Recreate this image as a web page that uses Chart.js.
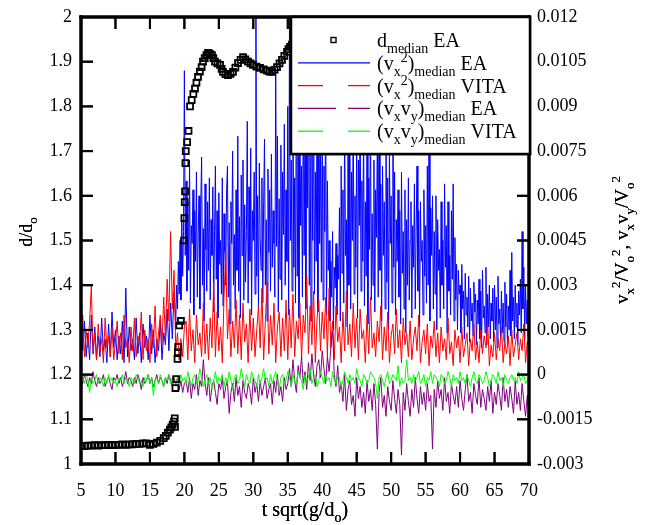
<!DOCTYPE html>
<html>
<head>
<meta charset="utf-8">
<script src="https://cdn.jsdelivr.net/npm/chart.js@4.4.1/dist/chart.umd.min.js"></script>
</head>
<body style="margin:0">
<canvas id="chart" width="645" height="525"></canvas>
<script>
// velocity series are sampled on a fixed clock starting at t = 5
const SAMPLE_START = 5;
const SAMPLE_STEP = 0.25;
// the EA (vx^2) record after the transition is denser: t = 18.75, 18.875, ... 70
const LATE_START = 18.75;
const LATE_STEP = 0.125;

const X_TICKS = [5, 10, 15, 20, 25, 30, 35, 40, 45, 50, 55, 60, 65, 70];
const D_TICKS = [1, 1.1, 1.2, 1.3, 1.4, 1.5, 1.6, 1.7, 1.8, 1.9, 2];
const D_TICK_LABELS = ['1', '1.1', '1.2', '1.3', '1.4', '1.5', '1.6', '1.7', '1.8', '1.9', '2'];
const V_TICKS = [-0.003, -0.0015, 0, 0.0015, 0.003, 0.0045, 0.006, 0.0075, 0.009, 0.0105, 0.012];
const V_TICK_LABELS = ['-0.003', '-0.0015', '0', '0.0015', '0.003', '0.0045', '0.006', '0.0075', '0.009', '0.0105', '0.012'];

// d_median EA (left axis)
const D_T = [5, 5.5, 6, 6.5, 7, 7.5, 8, 8.5, 9, 9.5, 10, 10.5, 11, 11.5, 12, 12.5, 13, 13.5, 14, 14.5,
  15, 15.5, 16, 16.5, 17, 17.3, 17.6, 17.9, 18.1, 18.3, 18.5, 18.6,
  18.64, 18.7, 18.8, 19.0, 19.05, 19.1, 19.25, 19.5, 19.95, 20.0, 20.05, 20.1, 20.15, 20.2, 20.4, 20.6,
  20.82, 21.06, 21.3, 21.54, 21.75, 21.98, 22.25, 22.5, 22.7, 22.95, 23.2, 23.43, 23.7, 24.0, 24.2, 24.44,
  24.8, 25.17, 25.4, 25.6, 25.95, 26.33, 26.7, 27.05, 27.4, 27.78, 28.15, 28.51, 28.85, 29.23, 29.6, 29.96,
  30.45, 30.97, 31.5, 31.99, 32.35, 32.71, 33.1, 33.44, 33.8, 34.16, 34.5, 34.89, 35.1, 35.33, 35.6,
  37, 40, 45, 50, 55, 60, 65, 70];
const D_VAL = [1.040, 1.040, 1.041, 1.041, 1.042, 1.041, 1.042, 1.042, 1.043, 1.042, 1.043, 1.043, 1.044, 1.043, 1.044, 1.044, 1.045, 1.045, 1.046, 1.046,
  1.043, 1.045, 1.048, 1.052, 1.058, 1.063, 1.070, 1.077, 1.082, 1.088, 1.095, 1.102,
  1.083, 1.17, 1.19, 1.235, 1.25, 1.262, 1.31, 1.32, 1.50, 1.55, 1.586, 1.61, 1.673, 1.70, 1.72, 1.745,
  1.80, 1.814, 1.828, 1.84, 1.853, 1.866, 1.878, 1.888, 1.90, 1.908, 1.915, 1.92, 1.918, 1.915, 1.908, 1.90,
  1.896, 1.893, 1.884, 1.877, 1.872, 1.87, 1.873, 1.877, 1.887, 1.897, 1.904, 1.91, 1.905, 1.90, 1.896, 1.893,
  1.889, 1.886, 1.883, 1.88, 1.878, 1.877, 1.882, 1.888, 1.896, 1.904, 1.913, 1.922, 1.928, 1.933, 1.938,
  1.945, 1.94, 1.95, 1.945, 1.95, 1.955, 1.95, 1.953];

// (vx^2)median EA, t = 5 ... 18.5 (step 0.25)
const VX2_EA_EARLY = [
  0.003, 0.0008, 0.0018, 0.0006, 0.0014, 0.0005, 0.002, 0.0007, 0.0016, 0.0005,
  0.0013, 0.0006, 0.0019, 0.0008, 0.0012, 0.0004, 0.0017, 0.0006, 0.0021, 0.0009,
  0.0015, 0.0005, 0.0013, 0.0007, 0.0018, 0.0004, 0.0029, 0.0006, 0.0016, 0.0008,
  0.0012, 0.0005, 0.0019, 0.0007, 0.0014, 0.0004, 0.0017, 0.0009, 0.0013, 0.0005,
  0.002, 0.0007, 0.0015, 0.0004, 0.0012, 0.0008, 0.0018, 0.0005, 0.0014, 0.001,
  0.0022, 0.0008, 0.0024, 0.0012, 0.0028
];

// (vx^2)median EA, t = 18.75 ... 70 (step 0.125)
const VX2_EA_LATE = [
  0.0018, 0.003, 0.0022, 0.0038, 0.0027, 0.0045, 0.0025, 0.0052, 0.0033, 0.0048,
  0.0102, 0.004, 0.0065, 0.0028, 0.0058, 0.0035, 0.0072, 0.0024, 0.005, 0.0044,
  0.0062, 0.002, 0.0055, 0.0038, 0.0068, 0.0026, 0.0047, 0.006, 0.0022, 0.0057,
  0.0073, 0.003, 0.0049, 0.0018, 0.0064, 0.0042, 0.0028, 0.0058, 0.0035, 0.0066,
  0.0025, 0.0052, 0.004, 0.0063, 0.0021, 0.0048, 0.007, 0.0032, 0.0055, 0.0019,
  0.0061, 0.0037, 0.0045, 0.0027, 0.0066, 0.0023, 0.0054, 0.0041, 0.003, 0.0062,
  0.007, 0.0026, 0.0051, 0.0017, 0.0058, 0.0044, 0.0075, 0.003, 0.0047, 0.0022,
  0.0062, 0.0035, 0.008, 0.0028, 0.0053, 0.0019, 0.0067, 0.004, 0.0072, 0.0025,
  0.0057, 0.0031, 0.0048, 0.0085, 0.0024, 0.0063, 0.0038, 0.0076, 0.002, 0.0055,
  0.0045, 0.0068, 0.0027, 0.013, 0.0033, 0.006, 0.0022, 0.0071, 0.0046, 0.0035,
  0.0066, 0.0024, 0.0058, 0.0079, 0.003, 0.0052, 0.0018, 0.0069, 0.0041, 0.0062,
  0.0028, 0.0074, 0.0036, 0.0055, 0.0044, 0.0026, 0.0102, 0.0043, 0.008, 0.0021,
  0.0059, 0.0032, 0.0077, 0.0025, 0.0068, 0.0047, 0.0084, 0.003, 0.0062, 0.0038,
  0.009, 0.002, 0.012, 0.0045, 0.0072, 0.0028, 0.0095, 0.0036, 0.0066, 0.0024,
  0.011, 0.0033, 0.0078, 0.0019, 0.0088, 0.005, 0.007, 0.0026, 0.0098, 0.004,
  0.0085, 0.0022, 0.0092, 0.0056, 0.0105, 0.003, 0.0074, 0.0018, 0.0083, 0.0045,
  0.0096, 0.0027, 0.0068, 0.0038, 0.0088, 0.0021, 0.0112, 0.0044, 0.0076, 0.0031,
  0.0082, 0.0025, 0.007, 0.0048, 0.0092, 0.002, 0.0065, 0.0035, 0.0045, 0.0018,
  0.0038, 0.0026, 0.0048, 0.0015, 0.0036, 0.0029, 0.0044, 0.002, 0.004, 0.0032,
  0.0056, 0.0018, 0.007, 0.0034, 0.0062, 0.0024, 0.0085, 0.004, 0.0052, 0.0016,
  0.0076, 0.003, 0.0095, 0.0022, 0.0068, 0.0045, 0.0088, 0.0027, 0.006, 0.0036,
  0.008, 0.0019, 0.0072, 0.005, 0.0092, 0.0028, 0.0065, 0.0038, 0.0084, 0.0023,
  0.0058, 0.0033, 0.0077, 0.0017, 0.0066, 0.0042, 0.009, 0.0025, 0.0054, 0.003,
  0.0072, 0.0021, 0.0062, 0.0046, 0.0082, 0.0026, 0.011, 0.0035, 0.0064, 0.0018,
  0.007, 0.004, 0.0058, 0.0022, 0.0086, 0.0031, 0.0066, 0.0015, 0.0075, 0.0044,
  0.006, 0.0024, 0.0095, 0.0036, 0.0068, 0.002, 0.0052, 0.0038, 0.0062, 0.0026,
  0.0055, 0.0017, 0.0068, 0.0034, 0.0048, 0.0022, 0.0062, 0.0014, 0.0052, 0.003,
  0.0066, 0.0025, 0.0045, 0.0058, 0.0019, 0.005, 0.0036, 0.0064, 0.0022, 0.0048,
  0.007, 0.0028, 0.0055, 0.0016, 0.0058, 0.0038, 0.0045, 0.002, 0.0062, 0.0033,
  0.005, 0.0024, 0.007, 0.003, 0.0085, 0.0018, 0.0056, 0.004, 0.006, 0.0022,
  0.0048, 0.0027, 0.006, 0.0015, 0.0052, 0.0035, 0.0042, 0.0019, 0.0058, 0.003,
  0.0045, 0.0022, 0.0064, 0.0036, 0.005, 0.0014, 0.0058, 0.0028, 0.004, 0.002,
  0.0055, 0.0032, 0.0064, 0.0018, 0.0046, 0.0025, 0.0037, 0.0015, 0.0035, 0.0027,
  0.003, 0.0014, 0.0037, 0.0022, 0.0028, 0.0012, 0.0034, 0.002, 0.0026, 0.0016,
  0.0033, 0.0011, 0.0029, 0.0018, 0.0024, 0.0013, 0.0031, 0.0021, 0.0027, 0.001,
  0.0025, 0.0017, 0.0032, 0.0012, 0.0028, 0.0009, 0.0035, 0.0019, 0.0023, 0.0014,
  0.0036, 0.001, 0.0027, 0.0016, 0.003, 0.0012, 0.0024, 0.0018, 0.0029, 0.0011,
  0.003, 0.0015, 0.0026, 0.0009, 0.0033, 0.0017, 0.0022, 0.0012, 0.0028, 0.0014,
  0.0024, 0.0011, 0.0031, 0.0016, 0.0027, 0.001, 0.0023, 0.0015, 0.0035, 0.0013,
  0.0041, 0.0018, 0.0026, 0.0012, 0.003, 0.0016, 0.0024, 0.001, 0.0028, 0.002,
  0.0032, 0.0014, 0.0048, 0.0022, 0.0036, 0.0012, 0.003, 0.0017, 0.0025, 0.0013,
  0.0015
];

// (vx^2)median VITA, t = 5 ... 70 (step 0.25)
const VX2_VITA = [
  0.0012, 0.002, 0.0006, 0.0015, 0.0009, 0.0018, 0.003, 0.0007, 0.0014, 0.0005,
  0.0017, 0.0008, 0.0012, 0.0004, 0.0019, 0.0009, 0.0013, 0.0006, 0.0016, 0.0005,
  0.0011, 0.0018, 0.0007, 0.0014, 0.0005, 0.002, 0.0009, 0.0012, 0.0004, 0.0016,
  0.0008, 0.0019, 0.0006, 0.0013, 0.001, 0.0021, 0.0005, 0.0015, 0.0008, 0.0012,
  0.0004, 0.0017, 0.0009, 0.0023, 0.0006, 0.0014, 0.002, 0.001, 0.0026, 0.0012,
  0.0032, 0.0018, 0.0048, 0.0022, 0.0035,
  0.0008, 0.0014, 0.0005, 0.0012, 0.0006, 0.0016,
  0.0018, 0.0005, 0.0022, 0.0008, 0.0015, 0.0004, 0.002, 0.001, 0.0014, 0.0006,
  0.0024, 0.0007, 0.0017, 0.0005, 0.0019, 0.0009, 0.0031, 0.0006, 0.0021, 0.0008,
  0.0016, 0.0004, 0.0026, 0.0041, 0.0012, 0.0022, 0.0006, 0.0018, 0.0009, 0.0025,
  0.0007, 0.002, 0.0005, 0.0024, 0.0011, 0.0017, 0.0004, 0.0022, 0.0008, 0.0019,
  0.0006, 0.0015, 0.0023, 0.0009, 0.0029, 0.0005, 0.0018, 0.0031, 0.0007, 0.002,
  0.001, 0.0024, 0.0004, 0.0016, 0.0021, 0.0006, 0.0019, 0.0008, 0.0025, 0.0005,
  0.0022, 0.0009, 0.0027, 0.0006, 0.0018, 0.0012, 0.0024, 0.0005, 0.002, 0.0014,
  0.0033, 0.0007, 0.0023, 0.001, 0.0028, 0.0004, 0.0019, 0.0025, 0.0008, 0.0021,
  0.0012, 0.0026, 0.0006, 0.0029, 0.0009, 0.0018, 0.0005, 0.0023, 0.0011, 0.0016,
  0.0004, 0.0021, 0.0008, 0.0028, 0.001, 0.0017, 0.0006, 0.0024, 0.0009, 0.0019,
  0.0005, 0.0022, 0.0012, 0.0015, 0.0004, 0.002, 0.0007, 0.0026, 0.0009, 0.0014,
  0.0006, 0.0018, 0.0011, 0.0023, 0.0005, 0.0016, 0.0008, 0.0021, 0.0004, 0.0013,
  0.0017, 0.0007, 0.0022, 0.0009, 0.0015, 0.0004, 0.0019, 0.001, 0.0014, 0.0006,
  0.0018, 0.0005, 0.0012, 0.0016, 0.0008, 0.002, 0.0004, 0.0011, 0.0015, 0.0007,
  0.0017, 0.0003, 0.0013, 0.0009, 0.0018, 0.0006, 0.0014, 0.0004, 0.0016, 0.0008,
  0.0012, 0.0005, 0.0019, 0.0007, 0.0011, 0.0003, 0.0015, 0.0009, 0.0013, 0.0004,
  0.0016, 0.0006, 0.001, 0.0014, 0.0003, 0.0012, 0.0008, 0.0017, 0.0005, 0.0011,
  0.0004, 0.0015, 0.0007, 0.0013, 0.0009, 0.0018, 0.0003, 0.001, 0.0006, 0.0014,
  0.0005, 0.0012, 0.0008, 0.0016, 0.0004, 0.0011, 0.0007, 0.0013, 0.0003, 0.0015,
  0.0006, 0.001, 0.0014, 0.0005, 0.0012, 0.0008, 0.0017, 0.0004, 0.0011, 0.0009
];

// (vxvy)median EA, t = 5 ... 70 (step 0.25)
const VXVY_EA = [
  -0.0001, -0.0003, 0, -0.0002, -0.0004, -0.0001, -0.0003, 0.0001, -0.0002, -0.0004,
  -0.0001, -0.0003, -0.0002, 0, -0.0004, -0.0002, -0.0001, -0.0003, -0.0005, -0.0001,
  -0.0002, 0, -0.0003, -0.0001, -0.0004, -0.0002, 0.0001, -0.0003, -0.0001, -0.0002,
  -0.0004, -0.0001, -0.0003, 0, -0.0002, -0.0005, -0.0001, -0.0003, -0.0002, 0,
  -0.0003, -0.0001, -0.0004, -0.0002, 0, -0.0003, -0.0001, -0.0002, -0.0004, -0.0001,
  -0.0003, 0, -0.0002, -0.0004, -0.0001,
  -0.0003, -0.0001, -0.0005, -0.0002, -0.0006, -0.0003,
  -0.0002, -0.0006, -0.0001, -0.0008, -0.0003, -0.0005, 0, -0.0007, -0.0002, -0.0004,
  0.0005, -0.0003, -0.0007, -0.0001, -0.0009, -0.0004, -0.0002, -0.0006, -0.001, -0.0003,
  -0.0005, -0.0001, -0.0008, -0.0004, -0.0002, -0.0013, -0.0006, -0.0003, -0.0009, -0.0001,
  -0.0007, -0.0004, -0.0011, -0.0002, -0.0006, -0.0008, -0.0003, -0.0005, -0.001, -0.0001,
  -0.0006, -0.0003, -0.0009, -0.0002, -0.0007, -0.0004, -0.0001, -0.0008, -0.0005, -0.0003,
  -0.001, -0.0002, -0.0006, 0, -0.0007, -0.0004, -0.0009, -0.0001, -0.0005, -0.0003,
  0.0002, -0.0004, 0.0005, -0.0002, -0.0006, 0.0003, -0.0001, 0.0006, -0.0003, 0.0001,
  -0.0005, 0.0004, -0.0002, 0.0007, 0, -0.0004, 0.0003, 0.0005, -0.0001, 0.0008,
  0.0002, -0.0003, 0.0006, 0.0001, 0.0009, 0.0015, 0, -0.0004, 0.0003, -0.0006,
  -0.0003, -0.0009, 0, -0.0012, -0.0005, -0.0002, -0.001, -0.0007, -0.0014, -0.0001,
  -0.0008, -0.0004, -0.0011, -0.0006, -0.0013, -0.0002, -0.0009, -0.0005, -0.0012, -0.0003,
  -0.001, -0.0025, -0.0006, -0.0001, -0.0011, -0.0007, -0.0014, -0.0004, -0.0009, -0.0012,
  -0.0002, -0.0008, -0.0013, -0.0005, -0.001, -0.0027, -0.0006, -0.0012, -0.0003, -0.0009,
  -0.0014, -0.0005, -0.0011, -0.0001, -0.0008, -0.0013, -0.0004, -0.001, -0.0006, -0.0012,
  -0.0003, -0.0009, -0.0007, -0.0025, -0.0005, -0.0011, -0.0002, -0.0008, -0.0005, -0.0012,
  -0.0001, -0.0009, -0.0006, -0.0013, -0.0003, -0.0007, -0.001, -0.0004, -0.0011, -0.0002,
  -0.0008, -0.0012, -0.0005, 0, -0.0009, -0.0006, -0.0013, -0.0003, -0.0007, -0.001,
  -0.0001, -0.0011, -0.0005, -0.0008, -0.0012, -0.0004, -0.0009, -0.0002, -0.0013, -0.0006,
  -0.001, -0.0003, -0.0007, -0.0012, -0.0001, -0.0009, -0.0005, -0.0011, -0.0004, -0.0008,
  -0.0013, -0.0002, -0.001, -0.0006, -0.0012, -0.0003, -0.0009, -0.0014, -0.0007, -0.0013
];

// (vxvy)median VITA, t = 5 ... 70 (step 0.25)
const VXVY_VITA = [
  -0.0002, -0.0001, -0.0003, 0, -0.0002, -0.0006, -0.0001, -0.0003, -0.0002, 0,
  -0.0003, -0.0001, -0.0002, -0.0004, -0.0001, -0.0003, 0, -0.0002, -0.0001, -0.0003,
  -0.0002, -0.0004, -0.0001, -0.0002, 0, -0.0003, -0.0001, -0.0002, -0.0004, -0.0001,
  -0.0002, -0.0003, 0, -0.0001, -0.0003, -0.0002, -0.0004, -0.0001, -0.0002, 0,
  -0.0003, -0.0001, -0.0007, -0.0002, -0.0001, -0.0003, 0, -0.0002, -0.0004, -0.0001,
  -0.0002, 0, -0.0003, -0.0001, -0.0002,
  -0.0004, -0.0001, -0.0003, 0, -0.0002, -0.0001,
  -0.0003, 0.0001, -0.0002, -0.0004, -0.0001, 0, -0.0003, -0.0002, 0.0002, -0.0001,
  -0.0004, -0.0002, 0, -0.0003, -0.0001, -0.0005, -0.0002, 0.0001, -0.0003, -0.0001,
  -0.0002, 0, -0.0004, -0.0001, -0.0003, 0.0001, -0.0002, -0.0005, -0.0001, 0,
  -0.0003, -0.0002, 0.0002, -0.0001, -0.0004, 0, -0.0002, -0.0003, 0.0001, -0.0001,
  -0.0002, -0.0004, 0, -0.0003, -0.0001, 0.0002, -0.0002, -0.0001, -0.0004, 0,
  -0.0003, -0.0001, 0.0001, -0.0002, -0.0005, -0.0001, 0, -0.0003, -0.0002, 0.0001,
  -0.0001, -0.0004, 0, -0.0002, -0.0003, 0.0001, -0.0001, -0.0002, -0.0005, 0,
  -0.0002, -0.0001, 0.0002, -0.0003, -0.0001, 0, -0.0004, -0.0002, 0.0001, -0.0001,
  -0.0003, 0, -0.0002, -0.0001, -0.0004, 0.0001, -0.0002, -0.0003, 0, -0.0001,
  -0.0004, -0.0002, 0.0001, -0.0001, -0.0003, 0, -0.0002, -0.0001, -0.0003, 0.0002,
  -0.0001, -0.0002, -0.0004, 0, -0.0001, -0.0003, -0.0002, 0.0001, 0, -0.0001,
  -0.0003, -0.0008, -0.0001, 0, -0.0002, -0.0004, -0.0001, 0.0001, -0.0003, -0.0002,
  0, -0.0001, -0.0002, 0.0003, -0.0004, -0.0001, -0.0003, -0.0002, 0.0005, -0.0002,
  -0.0001, -0.0003, 0, -0.0002, -0.0001, 0.0001, -0.0003, -0.0002, 0, -0.0004,
  -0.0001, -0.0002, 0.0001, -0.0003, 0, -0.0001, -0.0002, -0.0004, 0, -0.0001,
  -0.0003, -0.0002, 0.0001, -0.0001, -0.0004, 0, -0.0002, -0.0001, -0.0003, 0.0001,
  -0.0002, -0.0001, -0.0003, 0, -0.0002, -0.0004, -0.0001, 0.0001, -0.0002, -0.0003,
  0, -0.0001, -0.0003, -0.0002, 0.0001, -0.0001, -0.0004, -0.0002, 0, -0.0001,
  -0.0003, 0.0001, -0.0002, -0.0001, -0.0004, 0, -0.0002, -0.0003, -0.0001, 0,
  -0.0002, -0.0001, -0.0003, 0.0001, -0.0002, -0.0001, 0, -0.0003, -0.0002, -0.0001
];

const FONT = '"Liberation Serif", "Times New Roman", serif';

// legend rows: [text, 'sub' | 'sup' | undefined]
const LEGEND_ROWS = [
  { mark: 'square', color: '#000', text: [['d'], ['median', 'sub'], [' EA']] },
  { mark: 'line', color: '#0000ff', dash: [], text: [['(v'], ['x', 'sub'], ['2', 'sup'], [')'], ['median', 'sub'], [' EA']] },
  { mark: 'line', color: '#ff0000', dash: [25, 25], text: [['(v'], ['x', 'sub'], ['2', 'sup'], [')'], ['median', 'sub'], [' VITA']] },
  { mark: 'line', color: '#800080', dash: [38, 12], text: [['(v'], ['x', 'sub'], ['v'], ['y', 'sub'], [')'], ['median', 'sub'], [' EA']] },
  { mark: 'line', color: '#00ff00', dash: [25, 25], text: [['(v'], ['x', 'sub'], ['v'], ['y', 'sub'], [')'], ['median', 'sub'], [' VITA']] }
];

function series(values, start, step) {
  return values.map((v, i) => ({ x: start + step * i, y: v }));
}

function richText(ctx, parts, x, y, size, align) {
  const segs = parts.map(([text, kind]) => {
    const s = kind ? Math.round(size * 0.7) : size;
    ctx.font = s + 'px ' + FONT;
    return { text, kind, s, w: ctx.measureText(text).width };
  });
  const total = segs.reduce((sum, g) => sum + g.w, 0);
  let cx = align === 'center' ? x - total / 2 : x;
  segs.forEach(g => {
    ctx.font = g.s + 'px ' + FONT;
    const dy = g.kind === 'sub' ? size * 0.3 : g.kind === 'sup' ? -size * 0.4 : 0;
    ctx.fillText(g.text, cx, y + dy);
    cx += g.w;
  });
}

// frame and inward tick marks, placed with the chart's own scales
function drawFrame(chart) {
  const ctx = chart.ctx;
  const sx = chart.scales.x, sy = chart.scales.y, sv = chart.scales.y2;
  const left = sx.left, right = sx.right, top = sy.top, bottom = sy.bottom;
  ctx.save();
  ctx.globalAlpha = 1;
  ctx.globalCompositeOperation = 'source-over';
  ctx.fillStyle = '#000';
  X_TICKS.forEach(v => {
    const px = sx.getPixelForValue(v);
    ctx.fillRect(px - 1, bottom - 12, 2, 12);
    ctx.fillRect(px - 1, top, 2, 12);
  });
  D_TICKS.forEach(v => { const py = sy.getPixelForValue(v); ctx.fillRect(left, py - 1, 12, 2); });
  V_TICKS.forEach(v => { const py = sv.getPixelForValue(v); ctx.fillRect(right - 12, py - 1, 12, 2); });
  ctx.fillRect(left - 1.5, top - 1.5, right - left + 3, 3);
  ctx.fillRect(left - 1.5, bottom - 1.5, right - left + 3, 3);
  ctx.fillRect(left - 1.5, top - 1.5, 3, bottom - top + 3);
  ctx.fillRect(right - 1.5, top - 1.5, 3, bottom - top + 3);
  ctx.restore();
}

// legend box and axis titles with sub/superscripts
function drawLegendTitles(chart) {
  const ctx = chart.ctx;
  const sx = chart.scales.x, sy = chart.scales.y;
  const left = sx.left, right = sx.right, top = sy.top;
  ctx.save();

  const bx = right - 238, by = top, bw = 239, bh = 137;
  ctx.fillStyle = '#ffffff';
  ctx.fillRect(bx, by, bw, bh);
  ctx.strokeStyle = '#000000';
  ctx.lineWidth = 2.5;
  ctx.strokeRect(bx, by, bw, bh);

  LEGEND_ROWS.forEach((row, i) => {
    const cy = by + 23 + i * 22.8;
    if (row.mark === 'square') {
      ctx.lineWidth = 1.4;
      ctx.strokeStyle = '#000000';
      ctx.strokeRect(bx + 40, cy - 2.5, 5, 5);
    } else {
      ctx.lineWidth = 1.3;
      ctx.strokeStyle = row.color;
      ctx.setLineDash(row.dash);
      ctx.beginPath();
      ctx.moveTo(bx + 7, cy);
      ctx.lineTo(bx + 79, cy);
      ctx.stroke();
      ctx.setLineDash([]);
    }
    ctx.fillStyle = '#000000';
    ctx.textBaseline = 'alphabetic';
    ctx.textAlign = 'left';
    richText(ctx, row.text, bx + 86, cy + 7, 20);
  });

  ctx.fillStyle = '#000000';
  ctx.textBaseline = 'alphabetic';
  ctx.textAlign = 'left';
  richText(ctx, [['t sqrt(g/d'], ['o', 'sub'], [')']], (left + right) / 2, 516, 20, 'center');

  ctx.save();
  ctx.translate(32, 232);
  ctx.rotate(-Math.PI / 2);
  richText(ctx, [['d/d'], ['o', 'sub']], 0, 0, 18, 'center');
  ctx.restore();

  ctx.save();
  ctx.translate(628, 240);
  ctx.rotate(-Math.PI / 2);
  richText(ctx, [['v'], ['x', 'sub'], ['2', 'sup'], ['/V'], ['o', 'sub'], ['2', 'sup'], [', v'], ['x', 'sub'],
    ['v'], ['y', 'sub'], ['/V'], ['o', 'sub'], ['2', 'sup']], 0, 0, 19, 'center');
  ctx.restore();

  ctx.restore();
}

const overlay = {
  id: 'overlay',
  afterDraw(chart) {
    drawFrame(chart);
    drawLegendTitles(chart);
  }
};

const tickFont = { family: FONT, size: 18 };
const yTickFont = { family: FONT, size: 18, lineHeight: 0.8 };

const chart = new Chart(document.getElementById('chart'), {
  type: 'line',
  data: {
    datasets: [
      {
        label: 'd_median EA',
        data: D_T.map((t, i) => ({ x: t, y: D_VAL[i] })),
        yAxisID: 'y',
        showLine: false,
        pointStyle: 'rect',
        pointRadius: 4.2,
        pointBorderWidth: 1.8,
        pointBorderColor: '#000',
        pointBackgroundColor: 'rgba(255,255,255,0)',
        order: 0
      },
      {
        label: '(vx2)median EA',
        data: series(VX2_EA_EARLY, SAMPLE_START, SAMPLE_STEP).concat(series(VX2_EA_LATE, LATE_START, LATE_STEP)),
        yAxisID: 'y2', borderColor: '#0000ff', borderWidth: 1, pointRadius: 0, order: 4
      },
      { label: '(vx2)median VITA', data: series(VX2_VITA, SAMPLE_START, SAMPLE_STEP), yAxisID: 'y2', borderColor: '#ff0000', borderWidth: 1, pointRadius: 0, order: 3 },
      { label: '(vxvy)median EA', data: series(VXVY_EA, SAMPLE_START, SAMPLE_STEP), yAxisID: 'y2', borderColor: '#800080', borderWidth: 1, pointRadius: 0, order: 2 },
      { label: '(vxvy)median VITA', data: series(VXVY_VITA, SAMPLE_START, SAMPLE_STEP), yAxisID: 'y2', borderColor: '#00ff00', borderWidth: 1, pointRadius: 0, order: 1 }
    ]
  },
  options: {
    responsive: false,
    animation: false,
    events: [],
    layout: { padding: { top: 17, left: 0, right: 0, bottom: 0 } },
    plugins: { legend: { display: false }, tooltip: { enabled: false } },
    elements: { line: { tension: 0 } },
    scales: {
      x: {
        type: 'linear',
        min: 5,
        max: 70,
        afterBuildTicks: s => { s.ticks = X_TICKS.map(v => ({ value: v })); },
        afterFit: s => { s.height = 61; },
        grid: { display: false, drawTicks: false },
        border: { display: false },
        ticks: { font: tickFont, color: '#000', padding: 16, autoSkip: false, maxRotation: 0, callback: v => String(v) }
      },
      y: {
        position: 'left',
        min: 1,
        max: 2,
        afterBuildTicks: s => { s.ticks = D_TICKS.map(v => ({ value: v })); },
        afterFit: s => { s.width = 81; },
        grid: { display: false, drawTicks: false },
        border: { display: false },
        ticks: { font: yTickFont, color: '#000', padding: 9, callback: (v, i) => D_TICK_LABELS[i] }
      },
      y2: {
        position: 'right',
        min: -0.003,
        max: 0.012,
        afterBuildTicks: s => { s.ticks = V_TICKS.map(v => ({ value: v })); },
        afterFit: s => { s.width = 116; },
        grid: { display: false, drawTicks: false },
        border: { display: false },
        ticks: { font: yTickFont, color: '#000', padding: 8, callback: (v, i) => V_TICK_LABELS[i] }
      }
    }
  },
  plugins: [overlay]
});

// draw the frame once more after the chart has finished, then the legend over it
drawFrame(chart);
drawLegendTitles(chart);
</script>
</body>
</html>
